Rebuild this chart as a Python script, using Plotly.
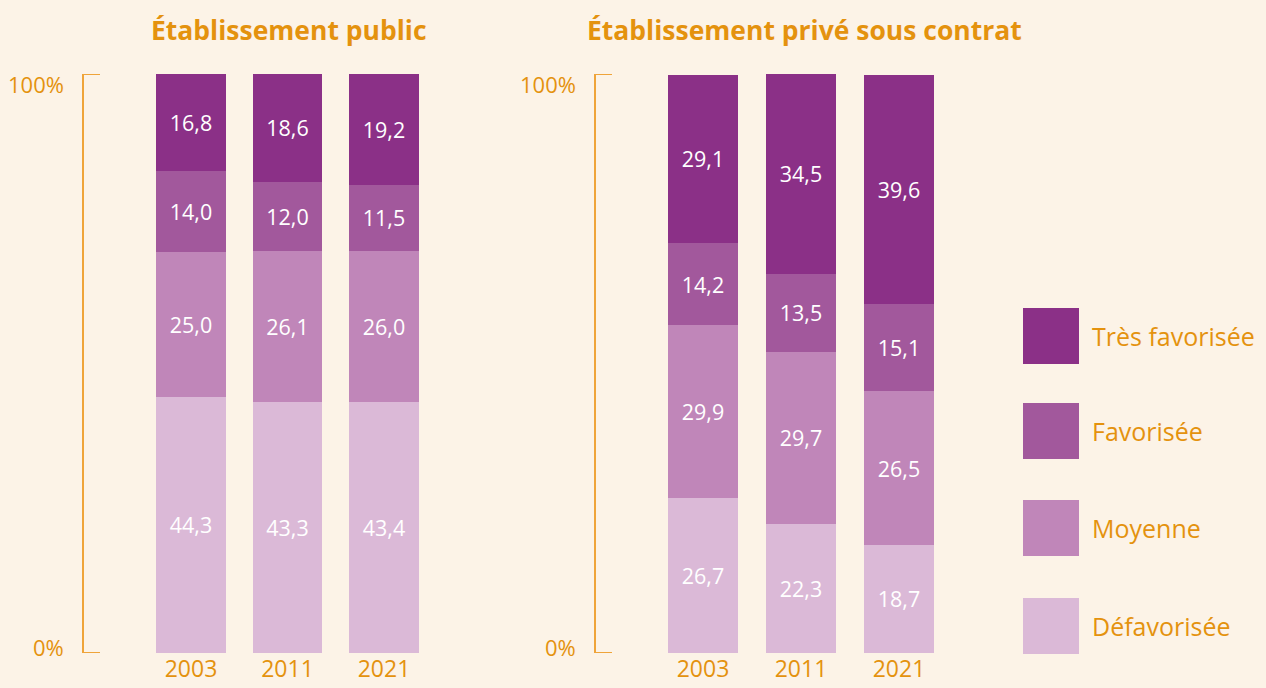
import plotly.graph_objects as go

# ---- data ----
years = ["2003", "2011", "2021"]
categories = ["Défavorisée", "Moyenne", "Favorisée", "Très favorisée"]
public_defavorisee = [44.3, 43.3, 43.4]
public_moyenne = [25.0, 26.1, 26.0]
public_favorisee = [14.0, 12.0, 11.5]
public_tres_favorisee = [16.8, 18.6, 19.2]
prive_defavorisee = [26.7, 22.3, 18.7]
prive_moyenne = [29.9, 29.7, 26.5]
prive_favorisee = [14.2, 13.5, 15.1]
prive_tres_favorisee = [29.1, 34.5, 39.6]
panel_titles = ["Établissement public", "Établissement privé sous contrat"]
y_labels = ["0%", "100%"]

# ---- style ----
W, H = 1266, 688
BG = "#FCF3E7"
ORANGE = "#E4920E"
BRACKET = "#EFA43A"
COLORS = {"Défavorisée": "#DBB9D7", "Moyenne": "#C086B9",
          "Favorisée": "#A2589C", "Très favorisée": "#8B3087"}
FONT = "Open Sans"

def px(x):
    return x / W

def py(y):
    return 1 - y / H

fig = go.Figure()

public = [public_defavorisee, public_moyenne, public_favorisee, public_tres_favorisee]
prive = [prive_defavorisee, prive_moyenne, prive_favorisee, prive_tres_favorisee]

for cat, vals in zip(categories, public):
    fig.add_trace(go.Bar(x=years, y=vals, name=cat, marker_color=COLORS[cat],
                         marker_line_width=0, width=0.725,
                         texttemplate="%{y:.1f}", textposition="inside",
                         insidetextanchor="middle", textangle=0,
                         textfont=dict(color="white", size=21.5, family=FONT),
                         xaxis="x", yaxis="y", showlegend=False, hoverinfo="skip"))
for cat, vals in zip(categories, prive):
    fig.add_trace(go.Bar(x=years, y=vals, name=cat, marker_color=COLORS[cat],
                         marker_line_width=0, width=0.714,
                         texttemplate="%{y:.1f}", textposition="inside",
                         insidetextanchor="middle", textangle=0,
                         textfont=dict(color="white", size=21.5, family=FONT),
                         xaxis="x2", yaxis="y2", showlegend=False, hoverinfo="skip"))

ydom = [py(653), py(74)]
xaxis_common = dict(type="category", showgrid=False, zeroline=False, showline=False,
                    ticks="", ticklabelstandoff=0,
                    tickfont=dict(color=ORANGE, size=23, family=FONT), range=[-0.5, 2.5],
                    fixedrange=True)
yaxis_common = dict(range=[0, 100], showgrid=False, zeroline=False, showline=False,
                    showticklabels=False, fixedrange=True, domain=ydom)

fig.update_layout(
    width=W, height=H, margin=dict(l=0, r=0, t=0, b=0),
    paper_bgcolor=BG, plot_bgcolor=BG, barmode="stack",
    separators=", ", showlegend=False, hovermode=False,
    font=dict(family=FONT, color=ORANGE),
    xaxis=dict(domain=[px(142.75), px(432.25)], anchor="y", **xaxis_common),
    yaxis=dict(anchor="x", **yaxis_common),
    xaxis2=dict(domain=[px(654), px(948)], anchor="y2", **xaxis_common),
    yaxis2=dict(anchor="x2", **yaxis_common),
)

annotations = []
shapes = []

# titles
for title, cx in zip(panel_titles, [289, 804]):
    annotations.append(dict(text=f"<b>{title}</b>", x=px(cx), y=py(30), xref="paper", yref="paper",
                            showarrow=False, xanchor="center", yanchor="middle",
                            font=dict(size=26.5, color=ORANGE, family=FONT)))

# brackets and y labels
for yref, bx, lx in [("y", 83, 66), ("y2", 595, 578)]:
    shapes.append(dict(type="path", xref="paper", yref=yref,
                       path=f"M {px(bx+17)},100 L {px(bx)},100 L {px(bx)},0 L {px(bx+17)},0",
                       line=dict(color=BRACKET, width=2)))
    annotations.append(dict(text=y_labels[1], x=px(lx), y=py(84), xref="paper", yref="paper",
                            showarrow=False, xanchor="right", yanchor="middle",
                            font=dict(size=22, color=ORANGE, family=FONT)))
    annotations.append(dict(text=y_labels[0], x=px(lx), y=py(647), xref="paper", yref="paper",
                            showarrow=False, xanchor="right", yanchor="middle",
                            font=dict(size=22, color=ORANGE, family=FONT)))

# legend
legend_rows = [("Très favorisée", 308), ("Favorisée", 403), ("Moyenne", 500), ("Défavorisée", 598)]
for cat, top in legend_rows:
    shapes.append(dict(type="rect", xref="paper", yref="paper",
                       x0=px(1023), x1=px(1079), y0=py(top + 56), y1=py(top),
                       fillcolor=COLORS[cat], line=dict(width=0)))
    annotations.append(dict(text=cat, x=px(1090), y=py(top + 28), xref="paper", yref="paper",
                            showarrow=False, xanchor="left", yanchor="middle",
                            font=dict(size=25, color=ORANGE, family=FONT)))

fig.update_layout(annotations=annotations, shapes=shapes)

post = (
    "document.documentElement.style.margin='0';"
    "document.documentElement.style.padding='0';"
    "document.documentElement.style.background='" + BG + "';"
    "document.body.style.margin='0';document.body.style.padding='0';"
    "document.body.style.background='" + BG + "';"
    "var gd=document.getElementById('{plot_id}');"
    "gd.style.display='block';"
)

fig.write_html("out.html", config={"displayModeBar": False, "staticPlot": True},
               post_script=post)
